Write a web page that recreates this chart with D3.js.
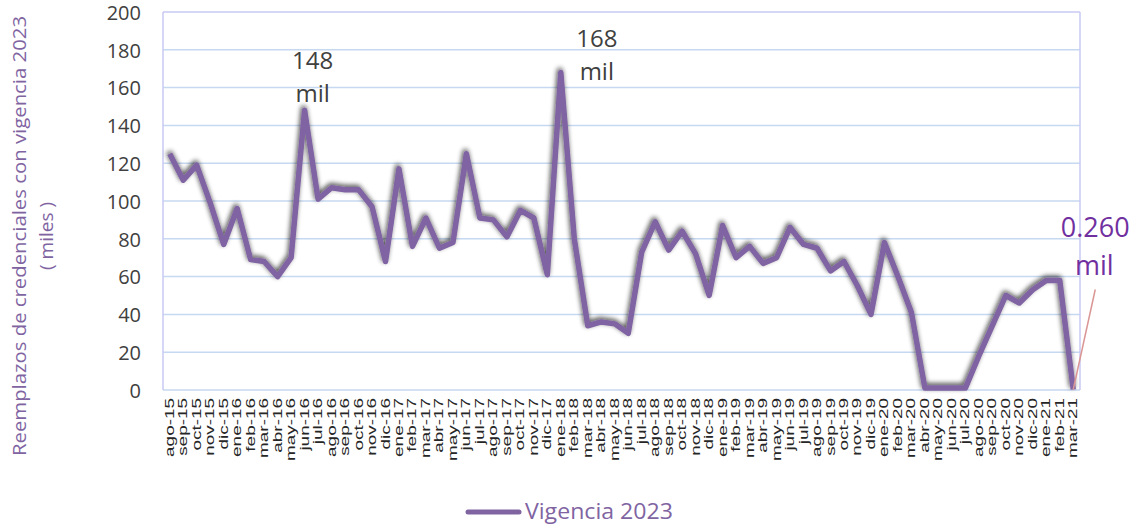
<!DOCTYPE html>
<html>
<head>
<meta charset="utf-8">
<script src="https://cdn.jsdelivr.net/npm/d3@7"></script>
<style>
  body { margin: 0; background: #fff; }
  svg { display: block; font-family: "Open Sans", sans-serif; }
</style>
</head>
<body>
<svg id="chart" width="1145" height="529"></svg>
<script>
// months, ago-15 .. mar-21
const months = [
  'ago-15','sep-15','oct-15','nov-15','dic-15',
  'ene-16','feb-16','mar-16','abr-16','may-16','jun-16','jul-16','ago-16','sep-16','oct-16','nov-16','dic-16',
  'ene-17','feb-17','mar-17','abr-17','may-17','jun-17','jul-17','ago-17','sep-17','oct-17','nov-17','dic-17',
  'ene-18','feb-18','mar-18','abr-18','may-18','jun-18','jul-18','ago-18','sep-18','oct-18','nov-18','dic-18',
  'ene-19','feb-19','mar-19','abr-19','may-19','jun-19','jul-19','ago-19','sep-19','oct-19','nov-19','dic-19',
  'ene-20','feb-20','mar-20','abr-20','may-20','jun-20','jul-20','ago-20','sep-20','oct-20','nov-20','dic-20',
  'ene-21','feb-21','mar-21'
];

// thousands of replacements
const vigencia = [
  125, 111, 119, 99, 77,
  96, 69, 68, 60, 70, 148, 101, 107, 106, 106, 97, 68,
  117, 76, 91, 75, 78, 125, 91, 90, 81, 95, 91, 61,
  168, 80, 34, 36, 35, 30, 73, 89, 74, 84, 72, 50,
  87, 70, 76, 67, 70, 86, 77, 75, 63, 68, 55, 40,
  78, 60, 41, 1, 1, 1, 1, 18, 34, 50, 46, 53,
  58, 58, 0.26
];

const yTicks = [0, 20, 40, 60, 80, 100, 120, 140, 160, 180, 200];

// labelled points: [month, line1, line2]
const callouts = [
  ['jun-16', '148', 'mil'],
  ['ene-18', '168', 'mil']
];
const lastLabel = ['0.260', 'mil'];

const svg = d3.select('#chart');
const mLeft = 163, mRight = 1080, mTop = 12, mBottom = 390;
const purple = '#8064a2';

const x = d3.scaleBand().domain(months).range([mLeft, mRight]).padding(0);
const y = d3.scaleLinear().domain([0, 200]).range([mBottom, mTop]);
const cx = m => x(m) + x.bandwidth() / 2;

// shadow for the line
const defs = svg.append('defs');
const f = defs.append('filter').attr('id', 'shadow')
  .attr('x', '-5%').attr('y', '-10%').attr('width', '110%').attr('height', '120%');
f.append('feGaussianBlur').attr('in', 'SourceAlpha').attr('stdDeviation', 2.5).attr('result', 'b');
f.append('feOffset').attr('in', 'b').attr('dx', -1).attr('dy', -2).attr('result', 'o');
f.append('feComponentTransfer').attr('in', 'o').attr('result', 's')
  .append('feFuncA').attr('type', 'linear').attr('slope', 0.7);
const merge = f.append('feMerge');
merge.append('feMergeNode').attr('in', 's');
merge.append('feMergeNode').attr('in', 'SourceGraphic');

// grid
svg.append('g').selectAll('line')
  .data(yTicks)
  .enter().append('line')
  .attr('x1', mLeft).attr('x2', mRight)
  .attr('y1', d => y(d)).attr('y2', d => y(d))
  .attr('stroke', d => d === 200 ? '#c8c8f4' : '#c6d9f1')
  .attr('stroke-width', 1.5);

// plot border sides
svg.append('line').attr('x1', mLeft).attr('x2', mLeft).attr('y1', mTop).attr('y2', mBottom)
  .attr('stroke', '#c8c8f4').attr('stroke-width', 1.5);
svg.append('line').attr('x1', mRight).attr('x2', mRight).attr('y1', mTop).attr('y2', mBottom)
  .attr('stroke', '#c8c8f4').attr('stroke-width', 1.5);

// y axis labels
const yAxis = d3.axisLeft(y).tickValues(yTicks).tickSize(0).tickPadding(0);
const gy = svg.append('g').attr('transform', `translate(${mLeft - 22},0)`).call(yAxis);
gy.select('.domain').remove();
gy.selectAll('text')
  .attr('font-family', '"Open Sans", sans-serif')
  .attr('font-size', 20).attr('fill', '#404040').attr('dy', '0.36em');

// x axis labels
const xAxis = d3.axisBottom(x).tickSize(0).tickPadding(0);
const gx = svg.append('g').attr('transform', `translate(0,${mBottom})`).call(xAxis);
gx.select('.domain').remove();
gx.selectAll('text')
  .attr('font-family', '"Liberation Sans", Arial, sans-serif')
  .attr('font-size', 11).attr('fill', '#262626')
  .attr('text-anchor', 'end')
  .attr('dy', null).attr('y', 0)
  .attr('transform', 'translate(4,8) rotate(-90) scale(1.72,1.1)');

// y axis title
const title = svg.append('g').attr('transform', 'translate(26,236) rotate(-90)');
title.append('text').attr('text-anchor', 'middle').attr('x', 0).attr('y', 0)
  .attr('font-size', 19).attr('fill', purple)
  .attr('textLength', 440).attr('lengthAdjust', 'spacingAndGlyphs')
  .text('Reemplazos de credenciales con vigencia 2023');
title.append('text').attr('text-anchor', 'middle').attr('x', 0).attr('y', 27)
  .attr('font-size', 19).attr('fill', purple)
  .text('( miles )');

// the line
const line = d3.line().x((d, i) => cx(months[i])).y(d => y(d));
svg.append('path')
  .datum(vigencia)
  .attr('d', line)
  .attr('fill', 'none')
  .attr('stroke', purple)
  .attr('stroke-width', 5.5)
  .attr('stroke-linejoin', 'round')
  .attr('filter', 'url(#shadow)');

// callouts (label offsets relative to the point)
const calloutPos = { 'jun-16': [8, -41, -8], 'ene-18': [36, -25, 8] };
callouts.forEach(([m, a, b]) => {
  const v = vigencia[months.indexOf(m)];
  const [dx, d1, d2] = calloutPos[m];
  const px = cx(m) + dx;
  const py = y(v);
  svg.append('text').attr('x', px).attr('y', py + d1)
    .attr('text-anchor', 'middle').attr('font-size', 24).attr('fill', '#404040')
    .text(a);
  svg.append('text').attr('x', px).attr('y', py + d2)
    .attr('text-anchor', 'middle').attr('font-size', 24).attr('fill', '#404040')
    .text(b);
});

// last point label + leader
const lm = months[months.length - 1];
const lx = cx(lm), ly = y(vigencia[vigencia.length - 1]);
svg.append('line')
  .attr('x1', lx + 22).attr('y1', ly - 100)
  .attr('x2', lx).attr('y2', ly)
  .attr('stroke', '#d99694').attr('stroke-width', 1.5);
svg.append('text').attr('x', lx + 22).attr('y', ly - 153)
  .attr('text-anchor', 'middle').attr('font-size', 27).attr('fill', '#7030a0')
  .text(lastLabel[0]);
svg.append('text').attr('x', lx + 21).attr('y', ly - 115)
  .attr('text-anchor', 'middle').attr('font-size', 27).attr('fill', '#7030a0')
  .text(lastLabel[1]);

// legend
svg.append('line').attr('x1', 468).attr('x2', 519).attr('y1', 512).attr('y2', 512)
  .attr('stroke', purple).attr('stroke-width', 5).attr('stroke-linecap', 'round');
svg.append('text').attr('x', 525).attr('y', 519)
  .attr('font-size', 21).attr('fill', purple)
  .attr('textLength', 148).attr('lengthAdjust', 'spacingAndGlyphs')
  .text('Vigencia 2023');
</script>
</body>
</html>
